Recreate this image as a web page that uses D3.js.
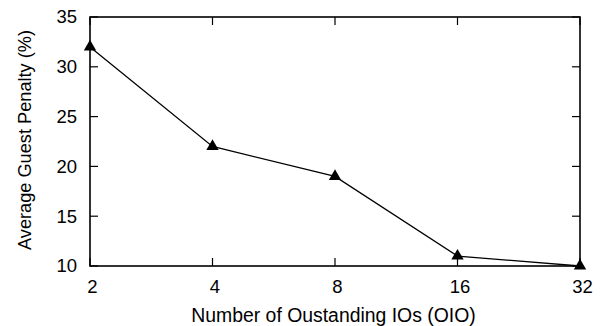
<!DOCTYPE html>
<html><head><meta charset="utf-8">
<script src="https://cdn.jsdelivr.net/npm/d3@7"></script>
<style>body{margin:0;background:#fff}svg{display:block}text{font-family:"Liberation Sans",Arial,sans-serif;fill:#000}</style>
</head><body><svg id="c" width="602" height="326"></svg>
<script>
const categories = ["2","4","8","16","32"];
const values = [32, 22, 19, 11, 10];
const yTicks = [10, 15, 20, 25, 30, 35];
const xTitle = "Number of Oustanding IOs (OIO)";
const yTitle = "Average Guest Penalty (%)";

const svg = d3.select("#c");
const L = 90, R = 580, T = 17, B = 266;
const x = d3.scalePoint().domain(categories).range([L, R]);
const y = d3.scaleLinear().domain([10, 35]).range([B, T]);

const tl = 8;
const g = svg.append("g");
yTicks.forEach(v => {
  g.append("line").attr("x1", L).attr("x2", L + tl).attr("y1", y(v)).attr("y2", y(v)).attr("stroke", "#000").attr("stroke-width", 1.2);
  g.append("line").attr("x1", R).attr("x2", R - tl).attr("y1", y(v)).attr("y2", y(v)).attr("stroke", "#000").attr("stroke-width", 1.2);
  g.append("text").attr("x", 77).attr("y", y(v)).attr("dy", "0.35em").attr("text-anchor", "end").attr("font-size", 18.5).text(v);
});
categories.forEach(c => {
  g.append("line").attr("x1", x(c)).attr("x2", x(c)).attr("y1", B).attr("y2", B - tl).attr("stroke", "#000").attr("stroke-width", 1.2);
  g.append("line").attr("x1", x(c)).attr("x2", x(c)).attr("y1", T).attr("y2", T + tl).attr("stroke", "#000").attr("stroke-width", 1.2);
  g.append("text").attr("x", x(c) + 2.5).attr("y", 293).attr("text-anchor", "middle").attr("font-size", 18.5).text(c);
});
svg.append("rect").attr("x", L).attr("y", T).attr("width", R - L).attr("height", B - T)
  .attr("fill", "none").attr("stroke", "#000").attr("stroke-width", 1.6);

const line = d3.line().x((d, i) => x(categories[i])).y(d => y(d));
svg.append("path").datum(values).attr("d", line).attr("fill", "none").attr("stroke", "#000").attr("stroke-width", 1.3);

const tri = d3.symbol().type(d3.symbolTriangle).size(66);
svg.selectAll(".m").data(values).join("path").attr("class", "m")
  .attr("transform", (d, i) => `translate(${x(categories[i])},${y(d)})`).attr("d", tri).attr("fill", "#000");

svg.append("text").attr("x", 333.5).attr("y", 322).attr("text-anchor", "middle").attr("font-size", 19.4).text(xTitle);
svg.append("text").attr("transform", `translate(31,140) rotate(-90)`).attr("text-anchor", "middle").attr("font-size", 18.2).text(yTitle);
</script></body></html>
